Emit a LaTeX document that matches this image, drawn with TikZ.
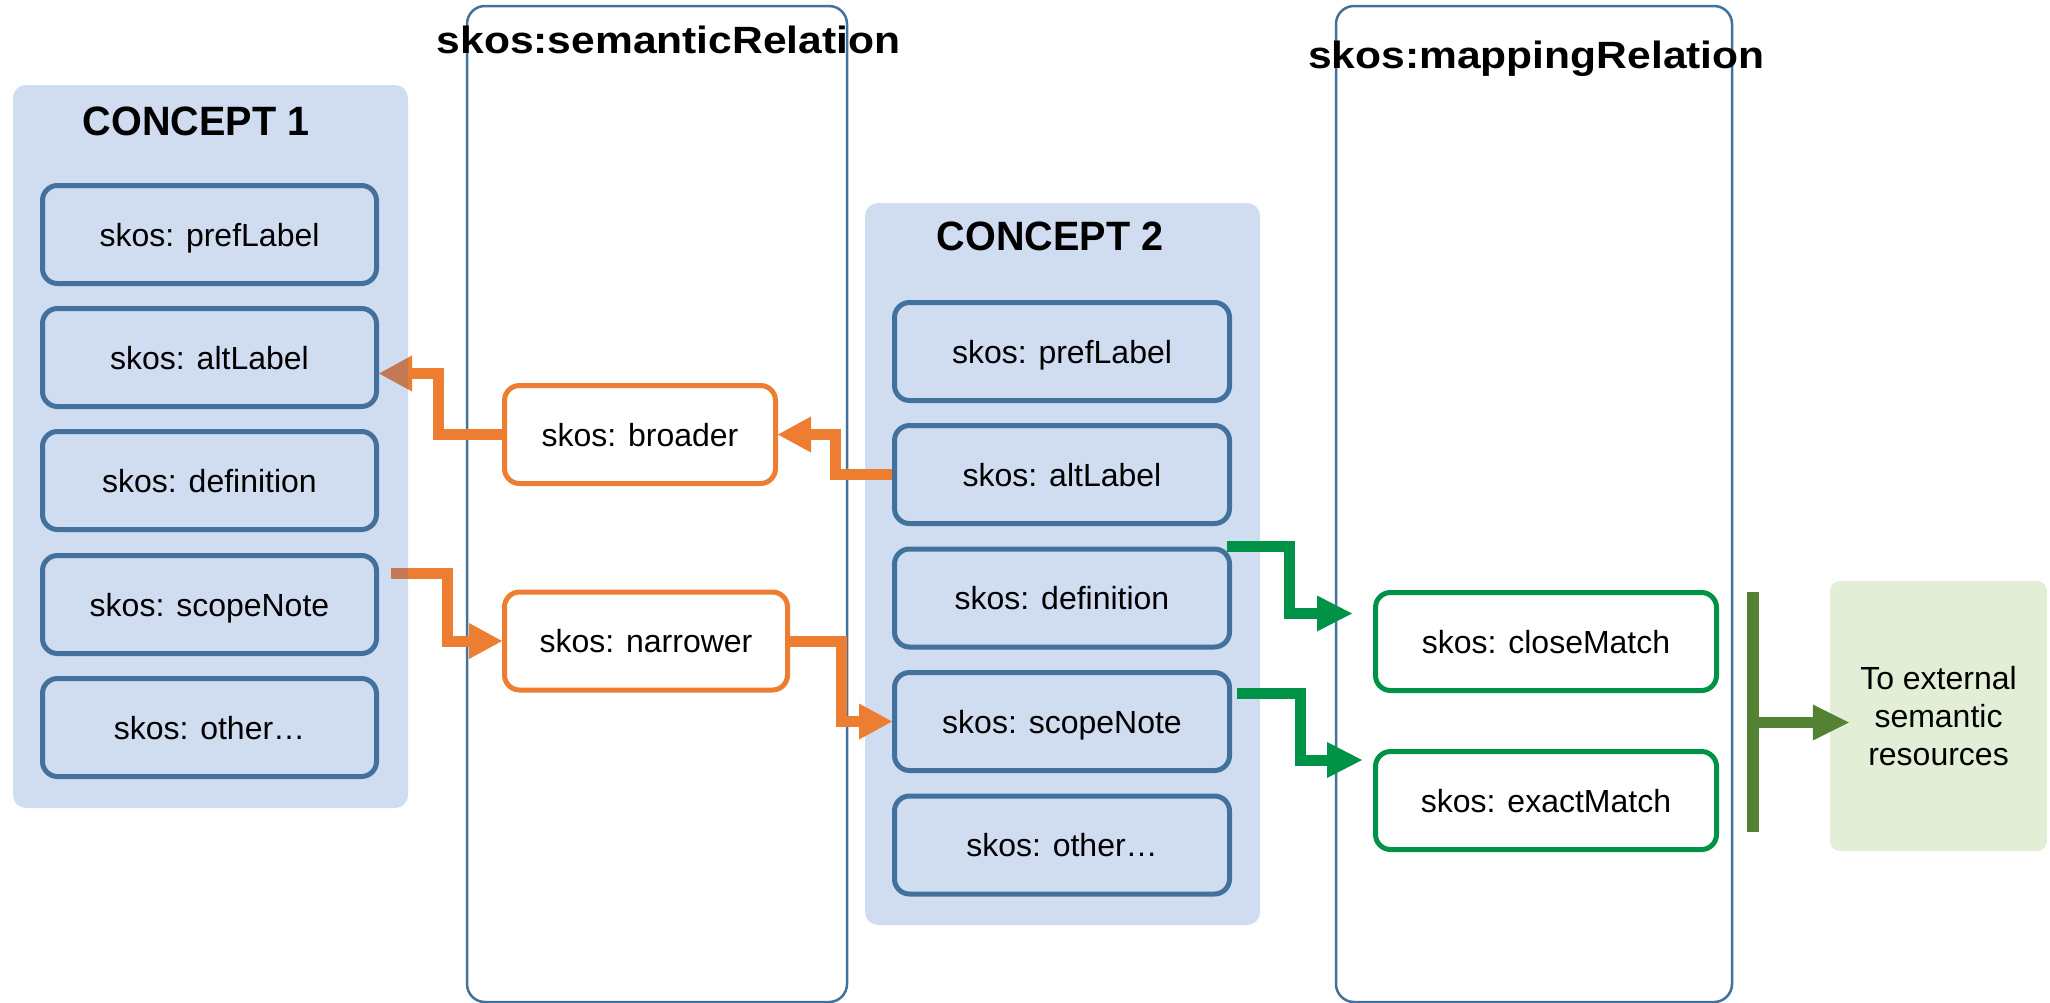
\documentclass[tikz,border=0pt]{standalone}
\usepackage{fontspec}
\setmainfont{Liberation Sans}
\usetikzlibrary{arrows.meta,calc}
\definecolor{boxblue}{HTML}{41719C}
\definecolor{bgblue}{HTML}{4472C4}
\definecolor{orng}{HTML}{ED7D31}
\definecolor{grn}{HTML}{009247}
\definecolor{olv}{HTML}{548235}
\definecolor{lgrn}{HTML}{E2EFD6}
\begin{document}
\begin{tikzpicture}[x=1pt,y=-1pt,
  txt/.style={font=\fontsize{32}{38}\selectfont, text=black},
  onetext/.style={txt, text height=23pt, text depth=0pt},
  conceptbg/.style={fill=bgblue, fill opacity=0.25, text opacity=1, rounded corners=13pt, minimum width=395pt, inner sep=0pt},
  propbox/.style={onetext, draw=boxblue, line width=5pt, rounded corners=15pt, minimum width=334pt, minimum height=98pt, inner sep=0pt},
  relbox/.style={draw=boxblue, line width=2.5pt, rounded corners=18pt, inner sep=0pt},
  obox/.style={onetext, draw=orng, line width=5pt, fill=white, rounded corners=15pt, minimum height=98pt, inner sep=0pt},
  gbox/.style={onetext, draw=grn, line width=5pt, fill=white, rounded corners=15pt, minimum width=341pt, minimum height=98pt, inner sep=0pt},
  bigtitle/.style={font=\fontsize{38}{44}\bfseries\selectfont, inner sep=0pt, anchor=base},
  ctitle/.style={font=\fontsize{41}{46}\bfseries\selectfont, inner sep=0pt, anchor=base},
  oarrow/.style={draw=orng, line width=11pt, -{Triangle[length=33pt,width=36pt,line width=0pt]}},
  garrow/.style={draw=grn, line width=11pt, -{Triangle[length=35pt,width=36pt,line width=0pt]}},
  olarrow/.style={draw=olv, line width=11pt, -{Triangle[length=36pt,width=36pt,line width=0pt]}},
]
\useasboundingbox (0,0) rectangle (2050,1002);

% relation columns
\node[relbox, minimum width=380pt, minimum height=996pt] (semrel) at (657,504) {};
\node[relbox, minimum width=396pt, minimum height=996pt] (maprel) at (1534,504) {};

% concept 2 background and boxes
\node[conceptbg, minimum height=722pt] (c2bg) at (1062.5,564) {};
\node[propbox, minimum width=335pt] (pref2) at (1062,351.5) {skos: prefLabel};
\node[propbox, minimum width=335pt] (alt2) at (1062,474.5) {skos: altLabel};
\node[propbox, minimum width=335pt] (def2) at (1062,598) {skos: definition};
\node[propbox, minimum width=335pt] (scope2) at (1062,721.5) {skos: scopeNote};
\node[propbox, minimum width=335pt] (other2) at (1062,845) {skos: other…};

% relation boxes
\node[obox, minimum width=271pt] (broader) at (640,434.5) {skos: broader};
\node[obox, minimum width=283pt] (narrower) at (646,641) {skos: narrower};
\node[gbox] (close) at (1546,641.5) {skos: closeMatch};
\node[gbox] (exact) at (1546,800.5) {skos: exactMatch};

% external
\node[txt, fill=lgrn, rounded corners=10pt, minimum width=217pt, minimum height=270pt, align=center, inner sep=0pt] (ext) at (1938.5,716) {To external\\semantic\\resources};

% orange connectors
\draw[oarrow] (alt2.west) -- ++(-57,0) |- (broader.east);
\coordinate (alt1tip) at (379,373.5);
\draw[oarrow] (broader.west) -- ++(-64,0) |- (alt1tip);
\coordinate (scope1out) at (391,573.5);
\draw[oarrow] (scope1out) -- ++(56,0) |- (narrower.west);
\draw[oarrow] (narrower.east) -- ++(51,0) |- (scope2.west);

% green connectors
\coordinate (def2out) at ($(def2.east)+(-5,-51.5)$);
\coordinate (closein) at ($(close.west)+(-21,-28)$);
\draw[garrow] (def2out) -- ++(62,0) |- (closein);
\coordinate (scope2out) at ($(scope2.east)+(5,-28.5)$);
\coordinate (exactin) at ($(exact.west)+(-11,-40.5)$);
\draw[garrow] (scope2out) -- ++(63,0) |- (exactin);

% olive bar and arrow
\coordinate (bartop) at (1753,592);
\coordinate (barbot) at (1753,832);
\draw[olv, line width=12pt] (bartop) -- (barbot);
\coordinate (barmid) at (1753,722.5);
\coordinate (extin) at ($(ext.west)+(19,6.5)$);
\draw[olarrow] (barmid) -- (extin);

% concept 1 background over arrows (transparent)
\node[conceptbg, minimum height=723pt] (c1bg) at (210.5,446.5) {};
\node[propbox] (pref1) at (209.5,234.5) {skos: prefLabel};
\node[propbox] (alt1) at (209.5,357.5) {skos: altLabel};
\node[propbox] (def1) at (209.5,480.5) {skos: definition};
\node[propbox] (scope1) at (209.5,604.5) {skos: scopeNote};
\node[propbox] (other1) at (209.5,727.5) {skos: other…};

% titles
\node[bigtitle] (semtitle) at (668.5,53) {\scalebox{1.12}[1]{skos:semanticRelation}};
\node[bigtitle] (maptitle) at (1536.5,68) {\scalebox{1.12}[1]{skos:mappingRelation}};
\node[ctitle] (c1title) at (196,135) {\scalebox{0.965}[1]{CONCEPT 1}};
\node[ctitle] (c2title) at (1050,250) {\scalebox{0.965}[1]{CONCEPT 2}};
\end{tikzpicture}
\end{document}
